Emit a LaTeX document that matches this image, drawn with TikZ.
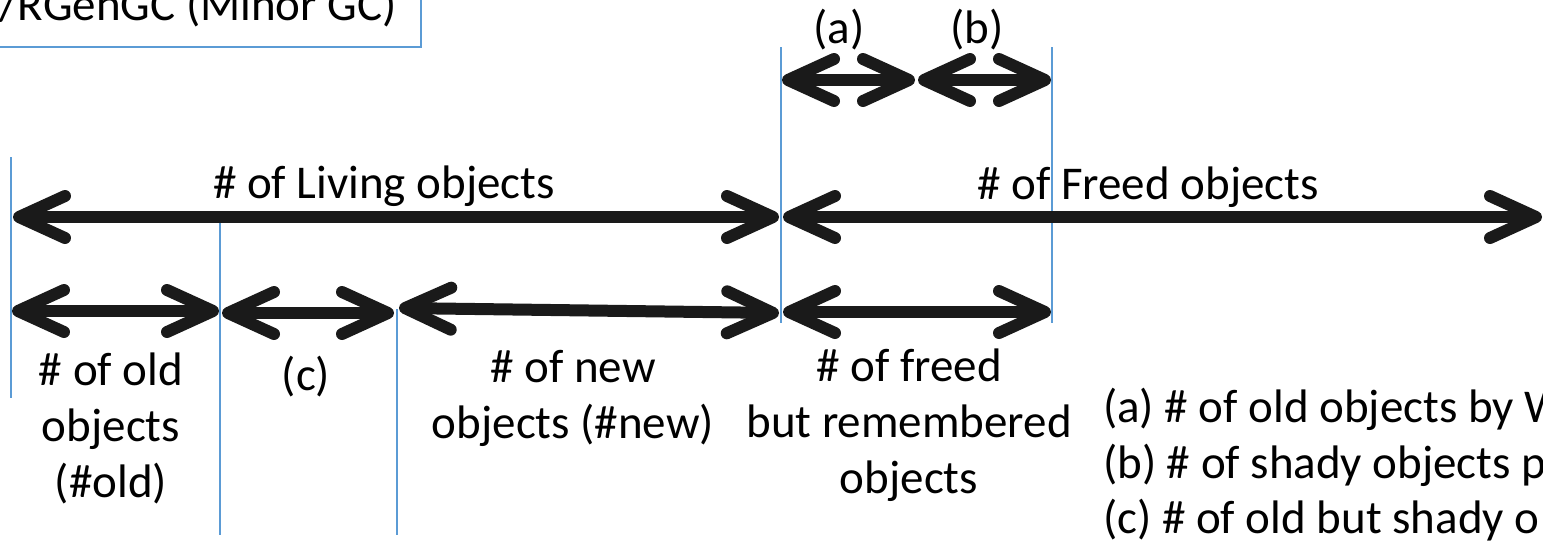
\documentclass[tikz,border=0pt]{standalone}
\usepackage{fontspec}
\setmainfont{Carlito}
\usetikzlibrary{arrows.meta}
\definecolor{guideblue}{RGB}{91,155,213}
\definecolor{ink}{RGB}{26,26,26}
\tikzset{
  dimspan/.style={draw=ink, line width=12pt, line cap=round,
    {Straight Barb[length=46pt,width=42pt,round]}-{Straight Barb[length=46pt,width=42pt,round]}},
  guideline/.style={draw=guideblue, line width=1.3pt},
  lbl/.style={font=\fontsize{47pt}{56pt}\selectfont, align=center, inner sep=0pt, anchor=base, text=black},
}
\begin{document}
\begin{tikzpicture}[x=1pt, y=-1pt]
\useasboundingbox (0,0) rectangle (1543,541);
\clip (0,0) rectangle (1543,541);

% title box, running off the top-left corner
\draw[draw=guideblue, line width=2pt] (-20,-20) rectangle (421,47);
\node[lbl, anchor=base east] (title) at (397,20) {/RGenGC (Minor GC)};

% vertical boundary guides
\coordinate (g0t) at (11,157);  \coordinate (g0b) at (11,398);
\coordinate (g1t) at (220,218); \coordinate (g1b) at (220,535);
\coordinate (g2t) at (397,309); \coordinate (g2b) at (397,535);
\coordinate (g3t) at (781,47);  \coordinate (g3b) at (781,323);
\coordinate (g4t) at (1052,47); \coordinate (g4b) at (1052,323);
\draw[guideline] (g0t) -- (g0b);
\draw[guideline] (g1t) -- (g1b);
\draw[guideline] (g2t) -- (g2b);
\draw[guideline] (g3t) -- (g3b);
\draw[guideline] (g4t) -- (g4b);

% spans (a) and (b)
\coordinate (a0) at (782,80);  \coordinate (a1) at (915,80);
\coordinate (b0) at (918,80);  \coordinate (b1) at (1051,80);
\draw[dimspan] (a0) -- (a1);
\draw[dimspan] (b0) -- (b1);
\node[lbl] (la) at (839,43) {(a)};
\node[lbl] (lb) at (977,43) {(b)};

% living / freed
\coordinate (l0) at (13,217);  \coordinate (l1) at (779,217);
\coordinate (f0) at (783,217); \coordinate (f1) at (1542,217);
\draw[dimspan] (l0) -- (l1);
\draw[dimspan] (f0) -- (f1);
\node[lbl] (living) at (384,198) {\# of Living objects};
\node[lbl] (freed) at (1148,199) {\# of Freed objects};

% breakdown row
\coordinate (o0) at (12,311);  \coordinate (o1) at (219,311);
\coordinate (c0) at (222,313); \coordinate (c1) at (394,313);
\coordinate (n0) at (399,308); \coordinate (n1) at (779,313);
\coordinate (r0) at (783,312); \coordinate (r1) at (1051,312);
\draw[dimspan] (o0) -- (o1);
\draw[dimspan] (c0) -- (c1);
\draw[dimspan] (n0) -- (n1);
\draw[dimspan] (r0) -- (r1);

% multi-line labels: the base anchor sits on the last line
\node[lbl] (old) at (111,497) {\# of old\\objects\\(\#old)};
\node[lbl] (lc) at (306,390) {(c)};
\node[lbl] (new) at (573,438) {\# of new\\objects (\#new)};
\node[lbl] (rem) at (909,493) {\# of freed\\but remembered\\objects};

% legend
\node[lbl, anchor=base west] (ka) at (1103,422) {(a) \# of old objects by W};
\node[lbl, anchor=base west] (kb) at (1103,478) {(b) \# of shady objects p};
\node[lbl, anchor=base west] (kc) at (1103,533) {(c) \# of old but shady o};
\end{tikzpicture}
\end{document}
